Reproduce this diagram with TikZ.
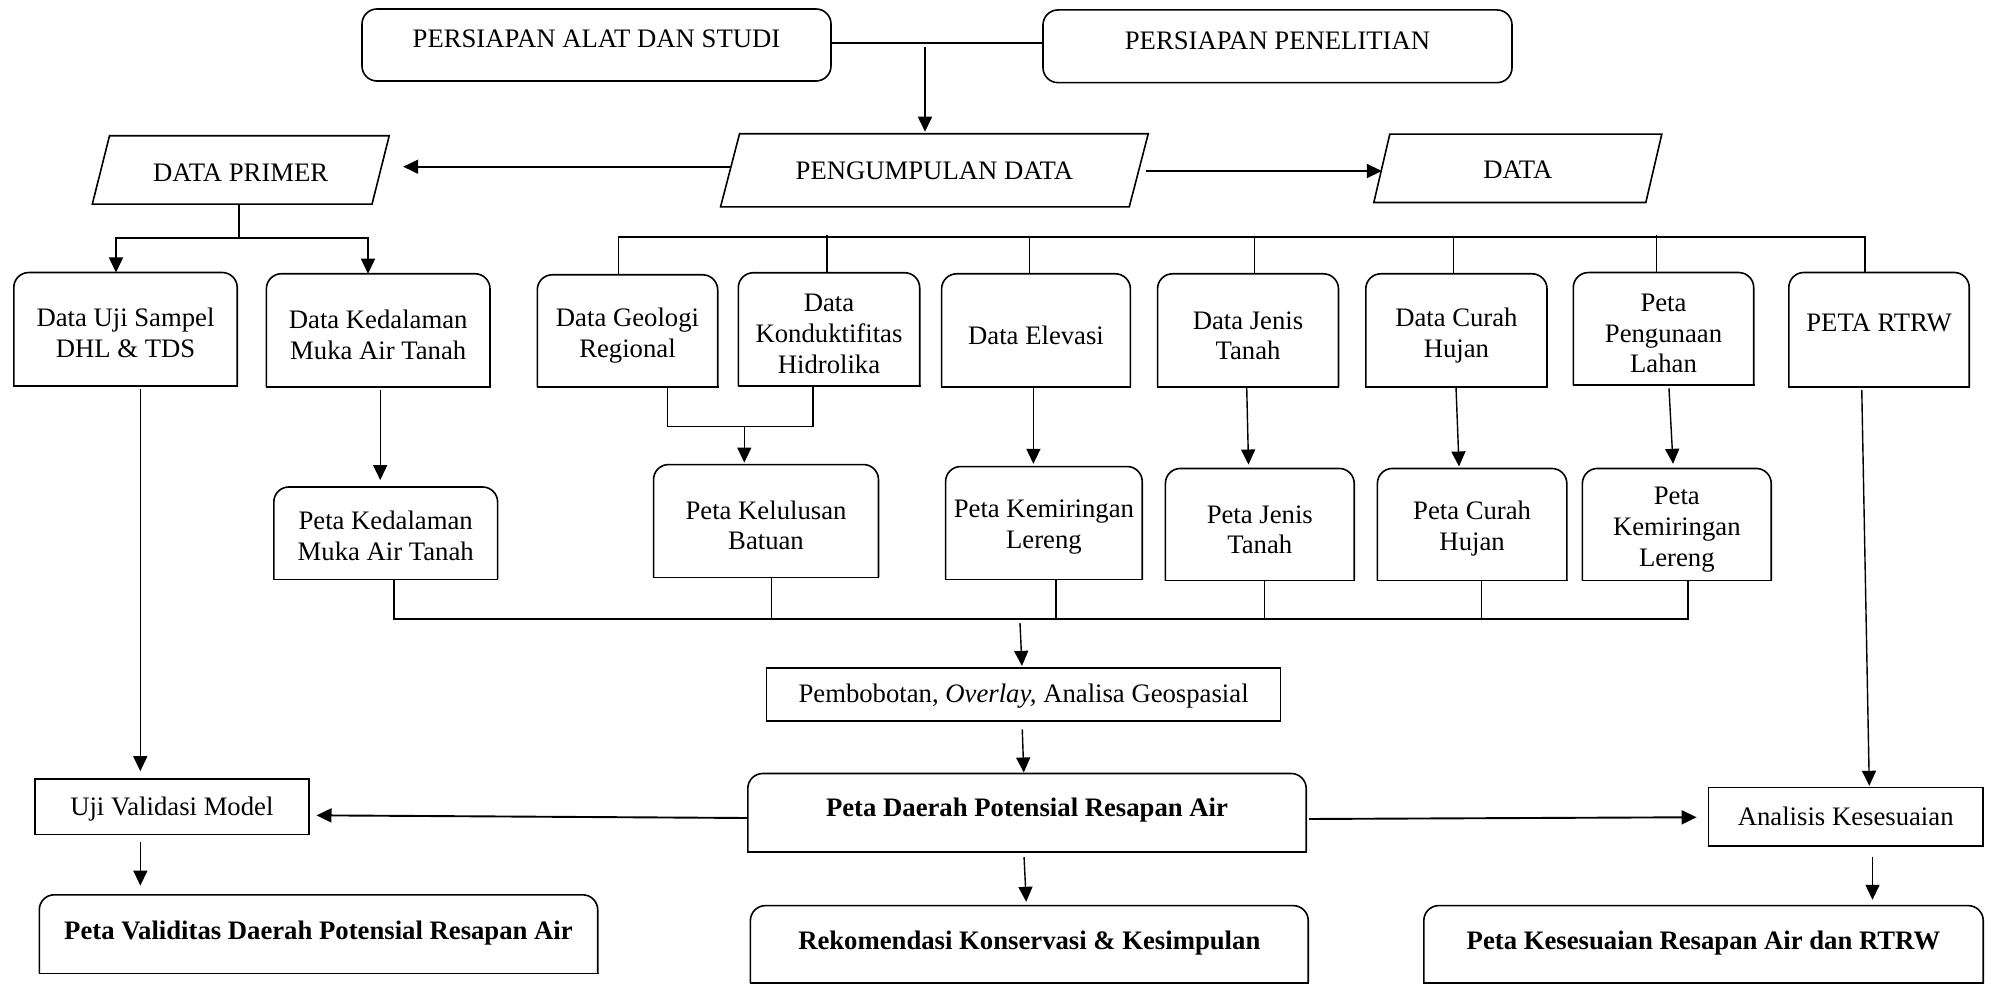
\documentclass[tikz,border=0pt]{standalone}
\usepackage{fontspec}
\setmainfont{Liberation Serif}
\usetikzlibrary{arrows.meta}
\tikzset{
  base/.style={rectangle, inner sep=0pt, align=center, font=\fontsize{26.7pt}{30.7pt}\selectfont},
  sqbox/.style={base, draw, line width=1.6pt},
  rbox/.style={base, draw, line width=1.6pt, rounded corners=15pt},
  tbox/.style={base},
  pbox/.style={base},
  ln/.style={line width=1.4pt},
  thk/.style={line width=1.9pt},
  arr/.style={line width=1.6pt, -{Triangle[length=15pt,width=14pt]}},
}
\newcommand{\st}[1]{\rule{0pt}{#1}}
\newcommand{\toprnd}[1]{%
  \draw[line width=1.6pt, rounded corners=15pt] (#1.south west) -- (#1.north west) -- (#1.north east) -- (#1.south east);
  \draw[line width=1.6pt, line cap=rect] (#1.south west) -- (#1.south east);}
\newcommand{\para}[2]{%
  \draw[line width=1.6pt, line join=miter] ([xshift=#2]#1.north west) -- (#1.north east) -- ([xshift=-#2]#1.south east) -- (#1.south west) -- cycle;}
\begin{document}
\begin{tikzpicture}[x=1pt, y=-1pt]
\useasboundingbox (0,0) rectangle (1991,984);
\fill[white] (0,0) rectangle (1991,984);
\clip (0,0) rectangle (1991,984);

% top boxes
\node[rbox, minimum width=469pt, minimum height=72pt, text depth=12pt] (pas) at (596.5,45) {PERSIAPAN ALAT DAN STUDI};
\node[rbox, minimum width=469pt, minimum height=72.7pt, text depth=12pt] (pp) at (1277.5,46.3) {PERSIAPAN PENELITIAN};

% parallelograms
\node[pbox, minimum width=296.5pt, minimum height=68pt] (dp) at (240.75,170) {\st{22.7pt}DATA PRIMER};
\node[pbox, minimum width=427.3pt, minimum height=72.7pt] (pd) at (934.4,170.3) {PENGUMPULAN DATA};
\node[pbox, minimum width=287.6pt, minimum height=68pt] (dt) at (1517.8,168.3) {\st{19.5pt}DATA};
\para{dp}{17.2pt}
\para{pd}{19pt}
\para{dt}{16pt}

% data row
\node[tbox, minimum width=223pt, minimum height=113pt] (dus) at (125.5,329.2) {\st{26.5pt}Data Uji Sampel\\DHL \& TDS};
\node[tbox, minimum width=223.2pt, minimum height=112.7pt] (dkm) at (378.2,330.3) {\st{28pt}Data Kedalaman\\Muka Air Tanah};
\node[tbox, minimum width=180pt, minimum height=112pt] (dgr) at (627.5,331) {\st{28pt}Data Geologi\\Regional};
\node[tbox, minimum width=181pt, minimum height=112.7pt] (dkh) at (829,329.3) {\st{27pt}Data\\Konduktifitas\\Hidrolika};
\node[tbox, minimum width=188.3pt, minimum height=113pt] (del) at (1036,330.5) {\st{28pt}Data Elevasi};
\node[tbox, minimum width=180.5pt, minimum height=113pt] (djt) at (1248,330.5) {\st{28pt}Data Jenis\\Tanah};
\node[tbox, minimum width=180.8pt, minimum height=113pt] (dch) at (1456.4,330.5) {\st{28pt}Data Curah\\Hujan};
\node[tbox, minimum width=180pt, minimum height=112.3pt] (ppl) at (1663.5,328.9) {\st{27pt}Peta\\Pengunaan\\Lahan};
\node[tbox, minimum width=180pt, minimum height=114pt, text depth=14pt] (rtrw) at (1879,329.7) {PETA RTRW};
\foreach \n in {dus,dkm,dgr,dkh,del,djt,dch,ppl,rtrw} {\toprnd{\n}}

% peta row
\node[tbox, minimum width=223.4pt, minimum height=92pt] (pkm) at (385.7,533.2) {\st{24.5pt}Peta Kedalaman\\Muka Air Tanah};
\node[tbox, minimum width=224.5pt, minimum height=112.5pt] (pkb) at (766,521) {\st{27.5pt}Peta Kelulusan\\Batuan};
\node[tbox, minimum width=196.2pt, minimum height=112.5pt] (pkl1) at (1043.9,523) {\st{26pt}Peta Kemiringan\\Lereng};
\node[tbox, minimum width=188.4pt, minimum height=111.7pt] (pjt) at (1259.8,524.5) {\st{28pt}Peta Jenis\\Tanah};
\node[tbox, minimum width=189pt, minimum height=111.7pt] (pch) at (1472.1,524.5) {\st{27pt}Peta Curah\\Hujan};
\node[tbox, minimum width=188.4pt, minimum height=111.7pt] (pkl2) at (1676.8,524.5) {\st{28pt}Peta\\Kemiringan\\Lereng};
\foreach \n in {pkm,pkb,pkl1,pjt,pch,pkl2} {\toprnd{\n}}

% lower part
\node[sqbox, minimum width=514pt, minimum height=53.2pt] (pbo) at (1023.6,694.3) {\st{23pt}Pembobotan, \textit{Overlay,} Analisa Geospasial};
\node[tbox, minimum width=558pt, minimum height=77.8pt, text depth=10pt] (pdra) at (1027,812.6) {\textbf{Peta Daerah Potensial Resapan Air}};
\node[sqbox, minimum width=273.7pt, minimum height=55.8pt] (uvm) at (171.85,806.6) {\st{23pt}Uji Validasi Model};
\node[sqbox, minimum width=274.6pt, minimum height=58.4pt] (ak) at (1845.7,816.8) {Analisis Kesesuaian};
\node[tbox, minimum width=558pt, minimum height=78.2pt, text depth=8pt] (pvd) at (318.5,934.1) {\textbf{Peta Validitas Daerah Potensial Resapan Air}};
\node[tbox, minimum width=557.4pt, minimum height=77.2pt, text depth=8pt] (rek) at (1029.3,944.4) {\textbf{Rekomendasi Konservasi \& Kesimpulan}};
\node[tbox, minimum width=559pt, minimum height=77.2pt, text depth=8pt] (pks) at (1703.5,944.4) {\textbf{Peta Kesesuaian Resapan Air dan RTRW}};
\foreach \n in {pdra,pvd,rek,pks} {\toprnd{\n}}

% --- connectors ---
% top
\draw[thk] ([yshift=2.3pt]pas.east) -- ([yshift=2.3pt]pas.east -| pp.west);
\coordinate (c1) at (925,47);
\draw[arr, shorten >=2pt] (c1) -- (c1 |- pd.north);
\draw[arr, thk] ([xshift=9.5pt,yshift=3.6pt]pd.west) -- ([xshift=14pt,yshift=3.3pt]dp.east);
\draw[arr, thk] ([xshift=-2pt,yshift=-0.7pt]pd.east) -- ([xshift=8pt,yshift=-0.7pt]pd.east -| dt.west);

% data primer split
\coordinate (s1) at (239,238);
\draw[ln] ([xshift=-1.75pt]dp.south) -- (s1);
\draw[arr, ln] (s1) -| ([xshift=-9.5pt]dus.north);
\draw[arr, ln] (s1) -| ([xshift=-10.2pt]dkm.north);

% data bus
\coordinate (b1) at (618.6,237);
\coordinate (b7) at (1865,237);
\draw[ln] (b1 |- dgr.north) -- (b1) -- (b7) -- (b7 |- rtrw.north);
\foreach \n/\dx in {dkh/-2pt, del/-6.5pt, djt/6.7pt, dch/-2.8pt, ppl/-7pt} {
  \draw[ln] ([xshift=\dx,yshift=38pt]\n.north) -- ([xshift=\dx]\n.north);
}

% left branch
\draw[arr, ln, shorten <=3pt, shorten >=6.7pt] ([xshift=14.8pt]dus.south) -- ([xshift=14.8pt]dus.south |- uvm.north);
\draw[arr, ln, shorten <=3pt, shorten >=6.9pt] ([xshift=2pt]dkm.south) -- ([xshift=2pt]dkm.south |- pkm.north);

% geologi + konduktifitas join
\coordinate (m1) at (744.3,426.2);
\draw[ln] ([xshift=40.2pt]dgr.south) |- ([xshift=-16pt]dkh.south |- m1) -- ([xshift=-16pt]dkh.south);
\draw[arr, ln, shorten >=2pt] (m1) -- (m1 |- pkb.north);

% data -> peta
\draw[arr, ln, shorten <=1pt, shorten >=2.7pt] ([xshift=-2.6pt]del.south) -- ([xshift=-10.5pt]pkl1.north);
\draw[arr, ln, shorten <=1pt, shorten >=3.9pt] ([xshift=-1.3pt]djt.south) -- ([xshift=-11.2pt]pjt.north);
\draw[arr, ln, shorten <=1pt, shorten >=2pt] ([xshift=-0.4pt]dch.south) -- ([xshift=-13pt]pch.north);
\draw[arr, ln, shorten <=3pt, shorten >=4.6pt] ([xshift=5.3pt]ppl.south) -- ([xshift=-3.5pt]pkl2.north);

% bottom collector
\coordinate (cl) at (394,618.8);
\draw[ln] ([xshift=8.3pt]pkm.south) -- (cl) -- ([xshift=11.2pt]pkl2.south |- cl) -- ([xshift=11.2pt]pkl2.south);
\foreach \n/\dx in {pkb/5.7pt, pkl1/11.9pt, pjt/4.8pt, pch/9.6pt} {
  \draw[ln] ([xshift=\dx]\n.south) -- ([xshift=\dx]\n.south |- cl);
}
\coordinate (c2) at (1020,623);
\draw[arr, ln, shorten >=1pt] (c2) -- ([xshift=-1.6pt]pbo.north);
\draw[arr, ln, shorten <=7.7pt, shorten >=1pt] ([xshift=-1.6pt]pbo.south) -- ([xshift=-3.2pt]pdra.north);

% from peta daerah
\draw[arr, thk, shorten >=7pt] ([yshift=-5.4pt]pdra.west) -- ([yshift=-8.7pt]uvm.east);
\draw[arr, ln, shorten <=6.6pt, shorten >=9.2pt] ([xshift=-31.5pt]uvm.south) -- ([xshift=-31.5pt]uvm.south |- pvd.north);
\draw[arr, thk, shorten <=3pt, shorten >=11pt] ([yshift=-6.4pt]pdra.east) -- ([yshift=-0.4pt]ak.west);
\draw[arr, ln, shorten <=3pt, shorten >=1pt] ([xshift=-17.3pt]rtrw.south) -- ([xshift=23.6pt]ak.north);
\draw[arr, ln, shorten <=9.7pt, shorten >=5.8pt] ([xshift=26.8pt]ak.south) -- ([xshift=26.8pt]ak.south |- pks.north);
\draw[arr, ln, shorten <=5.5pt, shorten >=3.8pt] ([xshift=-3.2pt]pdra.south) -- ([xshift=-2.9pt]rek.north);
\end{tikzpicture}
\end{document}
